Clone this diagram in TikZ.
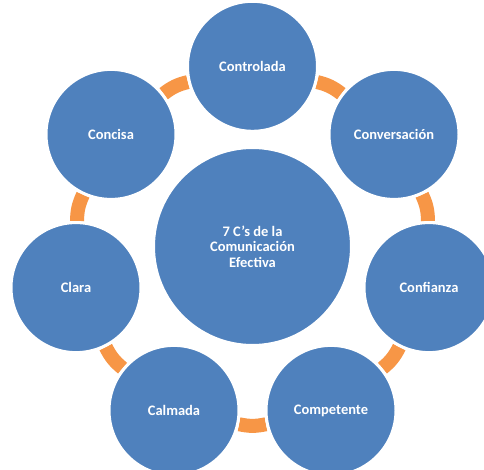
\documentclass[tikz,border=0pt]{standalone}
\usepackage{fontspec}
\setmainfont{Carlito}
\usetikzlibrary{backgrounds}
\definecolor{cblue}{HTML}{4F81BD}
\definecolor{corange}{HTML}{F79646}
\begin{document}
\begin{tikzpicture}[x=1pt,y=-1pt,
  cnode/.style={circle, fill=cblue, draw=white, line width=3pt, minimum size=130pt,
    inner sep=0pt, text=white, font=\fontsize{14.5}{15.5}\selectfont\bfseries, align=center},
  bar/.style={draw=corange, line width=14pt}]
\useasboundingbox (0,0) rectangle (484,470);
\node[cnode, minimum size=198pt] (center) at (252.5,246.5) {7 C’s de la\\Comunicación\\Efectiva};
\node[cnode] (contr) at (252.5,66.3) {Controlada};
\node[cnode] (conv)  at (394.0,134.4) {Conversación};
\node[cnode] (conf)  at (429.0,287.6) {Confianza};
\node[cnode] (comp)  at (331.0,410.4) {Competente};
\node[cnode] (calm)  at (174.0,410.4) {Calmada};
\node[cnode] (clara) at (76.0,287.6) {Clara};
\node[cnode] (conc)  at (111.0,134.4) {Concisa};
\begin{pgfonlayer}{background}
\fill[white] (0,0) rectangle (484,470);
\draw[bar] (contr) to[bend left=12] (conv);
\draw[bar] (conv) to[bend left=12] (conf);
\draw[bar] (conf) to[bend left=12] (comp);
\draw[bar] (comp) to[bend left=12] (calm);
\draw[bar] (calm) to[bend left=12] (clara);
\draw[bar] (clara) to[bend left=12] (conc);
\draw[bar] (conc) to[bend left=12] (contr);
\end{pgfonlayer}
\end{tikzpicture}
\end{document}
